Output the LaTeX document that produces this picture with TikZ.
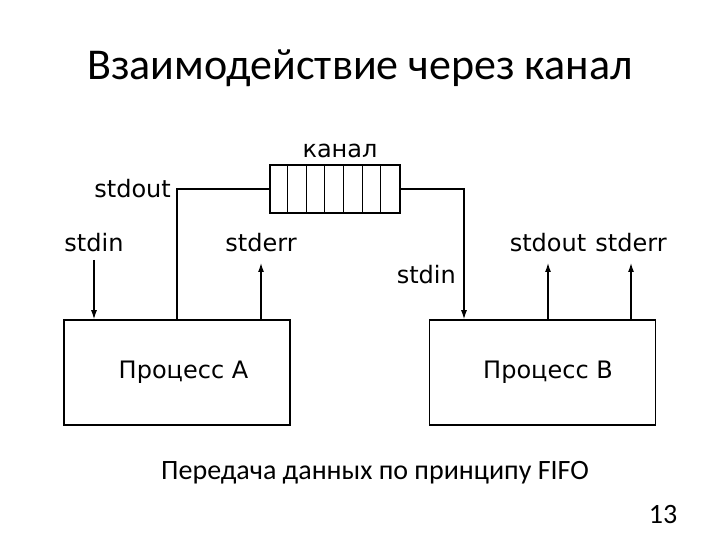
\documentclass[tikz,border=0pt]{standalone}
\usepackage{fontspec}
\setmainfont{Carlito}
\newfontfamily\dejavu{DejaVu Sans}
\usetikzlibrary{arrows.meta,positioning,calc}

\tikzset{
    proc/.style={draw, line width=1.6pt, minimum width=226pt, minimum height=105pt, font=\dejavu\fontsize{24}{28}\selectfont},
    lbl/.style={font=\dejavu\fontsize{24}{28}\selectfont, inner sep=0pt},
    pipe/.style={line width=1.2pt},
}

\begin{document}
\begin{tikzpicture}[x=1pt, y=1pt, >={Latex[length=9pt,width=6pt]}]
    \useasboundingbox (0,0) rectangle (720,540);

    \node[font=\fontsize{44}{50}\selectfont] (title) at (360,472) {Взаимодействие через канал};

    \node[proc] (procA) at (177,167.5) {\hspace*{13pt}Процесс A};
    \node[proc] (procB) at (542.5,167.5) {\hspace*{11pt}Процесс B};

    % the channel with its cells
    \node[draw, line width=1.6pt, minimum width=130pt, minimum height=48pt, inner sep=0pt] (kanal) at (335,351) {};
    \foreach \i in {1,...,6}
        \draw[line width=0.9pt] ($(kanal.south west)+(\i*18.57,0)$) -- ($(kanal.north west)+(\i*18.57,0)$);
    \node[lbl] (kanallbl) at (340,389) {канал};

    % process A
    \coordinate (outA) at (procA.north);
    \draw[pipe] (kanal.west) -| (outA);
    \node[lbl, anchor=east] (stdoutA) at (171,351) {stdout};
    \coordinate (inA) at ([xshift=-83pt]procA.north);
    \node[lbl] (stdinA) at (94,297) {stdin};
    \draw[pipe, ->] (stdinA.south |- 0,280) -- (inA);
    \node[lbl] (stderrA) at (261,297) {stderr};
    \draw[pipe, ->] ([xshift=84pt]procA.north) -- (stderrA.south |- 0,277);

    % process B
    \coordinate (inB) at ([xshift=-78.5pt]procB.north);
    \draw[pipe, ->] (kanal.east) -| (inB);
    \node[lbl, anchor=east] (stdinB) at (456,265) {stdin};
    \node[lbl] (stdoutB) at (548,297) {stdout};
    \node[lbl] (stderrB) at (631,297) {stderr};
    \draw[pipe, ->] ([xshift=5.5pt]procB.north) -- (stdoutB.south |- 0,277);
    \draw[pipe, ->] ([xshift=88.5pt]procB.north) -- (stderrB.south |- 0,277);

    \node[font=\fontsize{28}{32}\selectfont] (caption) at (375,67) {Передача данных по принципу FIFO};
    \node[font=\fontsize{28}{32}\selectfont] (page) at (663,25) {13};
\end{tikzpicture}
\end{document}
